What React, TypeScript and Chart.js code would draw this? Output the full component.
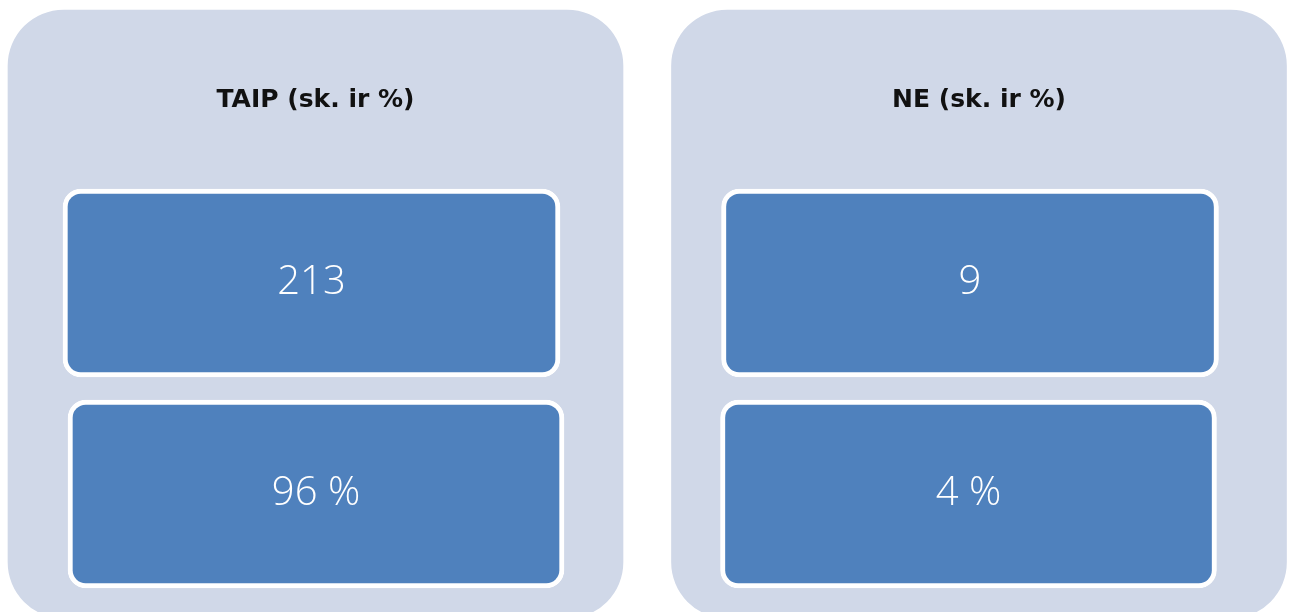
import React, { useEffect, useRef } from "react";
import { Chart, registerables } from "chart.js";

Chart.register(...registerables);

// ---- data ----
const groups = ["TAIP (sk. ir %)", "NE (sk. ir %)"];
const counts = [213, 9];
const shares = [96, 4];

// ---- layout (value space of hidden linear axes, 1 unit = 1 px) ----
const CANVAS_W = 1293;
const CANVAS_H = 612;
const panelCenters = [315.5, 979];
const countCenters = [311.5, 970];
const shareCenters = [316, 968.5];
const panelSpan = [10, 618];
const countSpan = [189, 377];
const shareSpan = [400, 588];
const titleBaseline = 107;

const PANEL_COLOR = "#D0D8E8";
const BOX_COLOR = "#4F81BD";

const textPlugin = {
  id: "infoText",
  afterDatasetsDraw(chart: any) {
    const ctx = chart.ctx;
    const yScale = chart.scales.y;
    ctx.save();
    ctx.textAlign = "center";

    // titles
    ctx.fillStyle = "#111111";
    ctx.font = 'bold 25px "DejaVu Sans"';
    ctx.textBaseline = "alphabetic";
    chart.getDatasetMeta(0).data.forEach((el: any, i: number) => {
      ctx.fillText(groups[i], el.x, yScale.getPixelForValue(titleBaseline));
    });

    // values
    ctx.fillStyle = "#FFFFFF";
    ctx.font = '300 40px "Open Sans"';
    ctx.textBaseline = "middle";
    chart.getDatasetMeta(1).data.forEach((el: any, i: number) => {
      ctx.fillText(String(counts[i]), el.x, (el.y + el.base) / 2);
    });
    chart.getDatasetMeta(2).data.forEach((el: any, i: number) => {
      ctx.fillText(`${shares[i]} %`, el.x, (el.y + el.base) / 2);
    });
    ctx.restore();
  },
};

export default function App() {
  const canvasRef = useRef<HTMLCanvasElement | null>(null);

  useEffect(() => {
    const canvas = canvasRef.current;
    if (!canvas) return;
    const chart = new Chart(canvas, {
      type: "bar",
      data: {
        datasets: [
          {
            label: "panel",
            data: groups.map((_, i) => ({ x: panelCenters[i], y: panelSpan })) as any,
            backgroundColor: PANEL_COLOR,
            borderWidth: 0,
            borderRadius: 56,
            borderSkipped: false,
            barThickness: 615,
            grouped: false,
            order: 2,
          },
          {
            label: "count",
            data: counts.map((_, i) => ({ x: countCenters[i], y: countSpan })) as any,
            backgroundColor: BOX_COLOR,
            borderColor: "#FFFFFF",
            borderWidth: 5,
            borderRadius: 18,
            borderSkipped: false,
            barThickness: 497,
            grouped: false,
            order: 1,
          },
          {
            label: "share",
            data: shares.map((_, i) => ({ x: shareCenters[i], y: shareSpan })) as any,
            backgroundColor: BOX_COLOR,
            borderColor: "#FFFFFF",
            borderWidth: 5,
            borderRadius: 18,
            borderSkipped: false,
            barThickness: 496,
            grouped: false,
            order: 1,
          },
        ],
      },
      options: {
        animation: false,
        responsive: false,
        events: [],
        layout: { padding: 0 },
        plugins: {
          legend: { display: false },
          tooltip: { enabled: false },
        },
        scales: {
          x: { type: "linear", min: 0, max: CANVAS_W, offset: false, display: false },
          y: { type: "linear", min: 0, max: CANVAS_H, reverse: true, display: false },
        },
      },
      plugins: [textPlugin],
    });
    return () => chart.destroy();
  }, []);

  return (
    <div style={{ position: "absolute", left: 0, top: 0, width: CANVAS_W, height: CANVAS_H }}>
      <canvas
        ref={canvasRef}
        width={CANVAS_W}
        height={CANVAS_H}
        style={{ display: "block", width: CANVAS_W, height: CANVAS_H }}
      />
    </div>
  );
}
